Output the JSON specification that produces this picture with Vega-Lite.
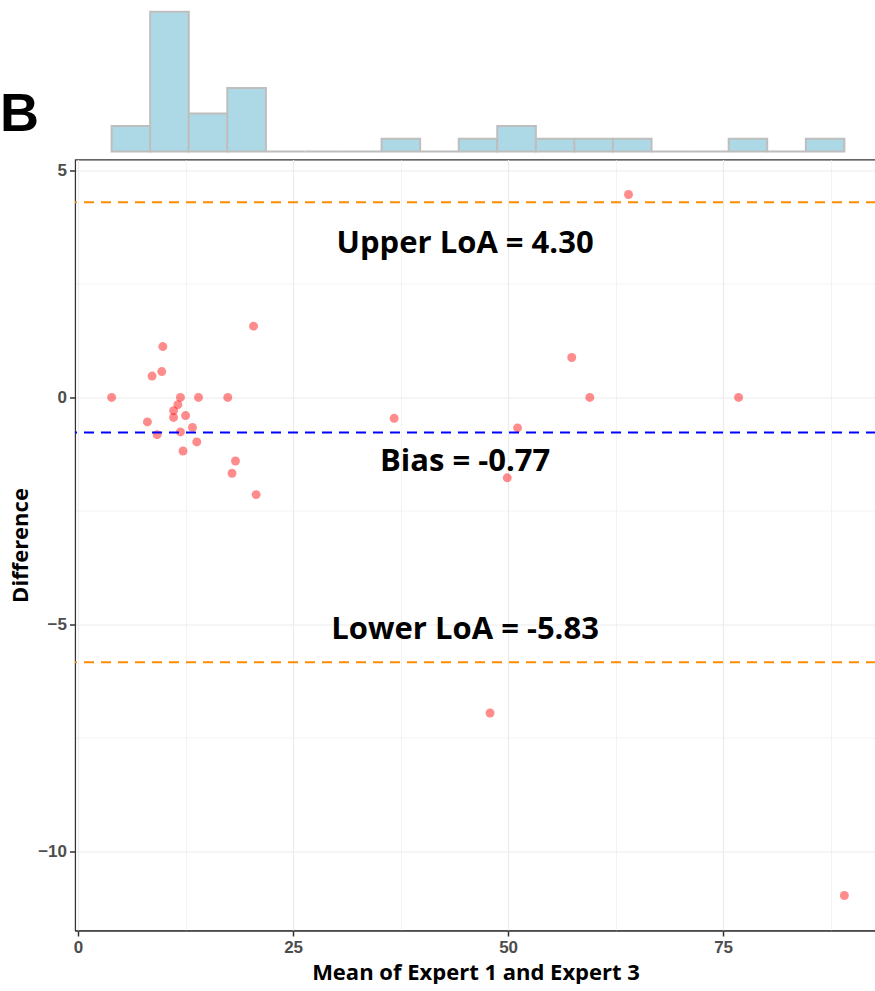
{
  "$schema": "https://vega.github.io/schema/vega-lite/v6.json",
  "background": "white",
  "padding": {"left": 0, "top": 4, "right": 0, "bottom": 0},
  "bounds": "flush",
  "spacing": 7.5,
  "config": {"view": {"stroke": null}},
  "datasets": {
    "points": [
      {"mean": 3.9, "diff": 0}, {"mean": 8.06, "diff": -0.54}, {"mean": 8.6, "diff": 0.47},
      {"mean": 9.19, "diff": -0.82}, {"mean": 9.73, "diff": 0.57}, {"mean": 9.85, "diff": 1.12},
      {"mean": 11.1, "diff": -0.29}, {"mean": 11.1, "diff": -0.44}, {"mean": 11.6, "diff": -0.16},
      {"mean": 11.9, "diff": 0}, {"mean": 11.9, "diff": -0.76}, {"mean": 12.2, "diff": -1.18},
      {"mean": 12.5, "diff": -0.4}, {"mean": 13.3, "diff": -0.66}, {"mean": 13.8, "diff": -0.98},
      {"mean": 14.0, "diff": 0}, {"mean": 17.4, "diff": 0}, {"mean": 17.9, "diff": -1.67},
      {"mean": 18.3, "diff": -1.4}, {"mean": 20.4, "diff": 1.57}, {"mean": 20.7, "diff": -2.14},
      {"mean": 36.75, "diff": -0.46}, {"mean": 47.9, "diff": -6.95}, {"mean": 49.9, "diff": -1.77},
      {"mean": 51.1, "diff": -0.67}, {"mean": 57.4, "diff": 0.88}, {"mean": 59.5, "diff": 0},
      {"mean": 64.0, "diff": 4.47}, {"mean": 76.8, "diff": 0}, {"mean": 89.1, "diff": -10.97}
    ],
    "hist": [
      {"start": 3.9, "end": 8.38, "count": 2}, {"start": 8.38, "end": 12.87, "count": 11},
      {"start": 12.87, "end": 17.35, "count": 3}, {"start": 17.35, "end": 21.84, "count": 5},
      {"start": 21.84, "end": 26.32, "count": 0}, {"start": 26.32, "end": 30.8, "count": 0},
      {"start": 30.8, "end": 35.29, "count": 0}, {"start": 35.29, "end": 39.77, "count": 1},
      {"start": 39.77, "end": 44.26, "count": 0}, {"start": 44.26, "end": 48.74, "count": 1},
      {"start": 48.74, "end": 53.23, "count": 2}, {"start": 53.23, "end": 57.71, "count": 1},
      {"start": 57.71, "end": 62.19, "count": 1}, {"start": 62.19, "end": 66.68, "count": 1},
      {"start": 66.68, "end": 71.16, "count": 0}, {"start": 71.16, "end": 75.65, "count": 0},
      {"start": 75.65, "end": 80.13, "count": 1}, {"start": 80.13, "end": 84.62, "count": 0},
      {"start": 84.62, "end": 89.1, "count": 1}
    ],
    "lines": [
      {"kind": "loa", "value": 4.30, "label": "Upper LoA = 4.30", "tx": 45, "ty": 3.19},
      {"kind": "bias", "value": -0.77, "label": "Bias = -0.77", "tx": 45, "ty": -1.61},
      {"kind": "loa", "value": -5.83, "label": "Lower LoA = -5.83", "tx": 45, "ty": -5.33}
    ],
    "panel": [{"label": "B", "px": -9.08, "py": 1.61}]
  },
  "vconcat": [
    {
      "width": 801,
      "height": 147.5,
      "layer": [
        {
          "data": {"name": "hist"},
          "mark": {"type": "rect", "fill": "#ADD8E6", "stroke": "#BEBEBE", "strokeWidth": 2},
          "encoding": {
            "x": {"field": "start", "type": "quantitative", "scale": {"domain": [-0.36, 92.78], "nice": false, "zero": false}, "axis": null},
            "x2": {"field": "end"},
            "y": {"field": "count", "type": "quantitative", "scale": {"domain": [0, 11.61], "nice": false, "zero": false}, "axis": null},
            "y2": {"datum": 0}
          }
        },
        {
          "data": {"name": "panel"},
          "mark": {"type": "text", "font": "Liberation Sans", "fontSize": 54, "fontWeight": "bold", "align": "left", "baseline": "alphabetic", "color": "black"},
          "encoding": {
            "x": {"field": "px", "type": "quantitative"},
            "y": {"field": "py", "type": "quantitative"},
            "text": {"field": "label"}
          }
        }
      ]
    },
    {
      "width": 801,
      "height": 771,
      "view": {"stroke": "#333333", "strokeWidth": 1.1},
      "layer": [
        {
          "data": {"name": "points"},
          "mark": {"type": "circle", "size": 80, "color": "red", "opacity": 0.45},
          "encoding": {
            "x": {
              "field": "mean", "type": "quantitative",
              "scale": {"domain": [-0.36, 92.78], "nice": false, "zero": false},
              "title": "Mean of Expert 1 and Expert 3",
              "axis": {
                "values": [0, 12.5, 25, 37.5, 50, 62.5, 75, 87.5],
                "format": "d",
                "labelExpr": "datum.value % 25 === 0 ? datum.label : ''",
                "tickOpacity": {"condition": {"test": "datum.value % 25 === 0", "value": 1}, "value": 0},
                "gridWidth": {"condition": {"test": "datum.value % 25 === 0", "value": 1.2}, "value": 0.6},
                "gridColor": "#EBEBEB",
                "domainColor": "#333333", "domainWidth": 1.1,
                "tickColor": "#333333", "tickSize": 5.5, "tickWidth": 1.5,
                "labelFont": "Liberation Sans", "labelFontSize": 17, "labelFontWeight": "bold", "labelColor": "#4D4D4D",
                "labelPadding": 3, "labelFlush": false, "labelOverlap": false,
                "titleFont": "Open Sans", "titleFontSize": 22, "titleFontWeight": "bold", "titleColor": "black", "titlePadding": 7
              }
            },
            "y": {
              "field": "diff", "type": "quantitative",
              "scale": {"domain": [-11.74, 5.24], "nice": false, "zero": false},
              "title": "Difference",
              "axis": {
                "values": [-10, -7.5, -5, -2.5, 0, 2.5, 5],
                "format": "d",
                "labelExpr": "datum.value % 5 === 0 ? datum.label : ''",
                "tickOpacity": {"condition": {"test": "datum.value % 5 === 0", "value": 1}, "value": 0},
                "gridWidth": {"condition": {"test": "datum.value % 5 === 0", "value": 1.2}, "value": 0.6},
                "gridColor": "#EBEBEB",
                "domainColor": "#333333", "domainWidth": 1.1,
                "tickColor": "#333333", "tickSize": 5.5, "tickWidth": 1.5,
                "labelFont": "Liberation Sans", "labelFontSize": 17, "labelFontWeight": "bold", "labelColor": "#4D4D4D",
                "labelPadding": 3, "labelFlush": false, "labelOverlap": false,
                "titleFont": "Open Sans", "titleFontSize": 22, "titleFontWeight": "bold", "titleColor": "black", "titlePadding": 5
              }
            }
          }
        },
        {
          "data": {"name": "lines"},
          "mark": {"type": "rule", "strokeDash": [10, 7], "strokeWidth": 2},
          "encoding": {
            "y": {"field": "value", "type": "quantitative"},
            "color": {"field": "kind", "type": "nominal", "scale": {"domain": ["loa", "bias"], "range": ["#FF8C00", "#0000FF"]}, "legend": null}
          }
        },
        {
          "data": {"name": "lines"},
          "mark": {"type": "text", "font": "Open Sans", "fontSize": 31, "fontWeight": "bold", "align": "center", "baseline": "alphabetic", "color": "black"},
          "encoding": {
            "x": {"field": "tx", "type": "quantitative"},
            "y": {"field": "ty", "type": "quantitative"},
            "text": {"field": "label"}
          }
        }
      ]
    }
  ]
}
